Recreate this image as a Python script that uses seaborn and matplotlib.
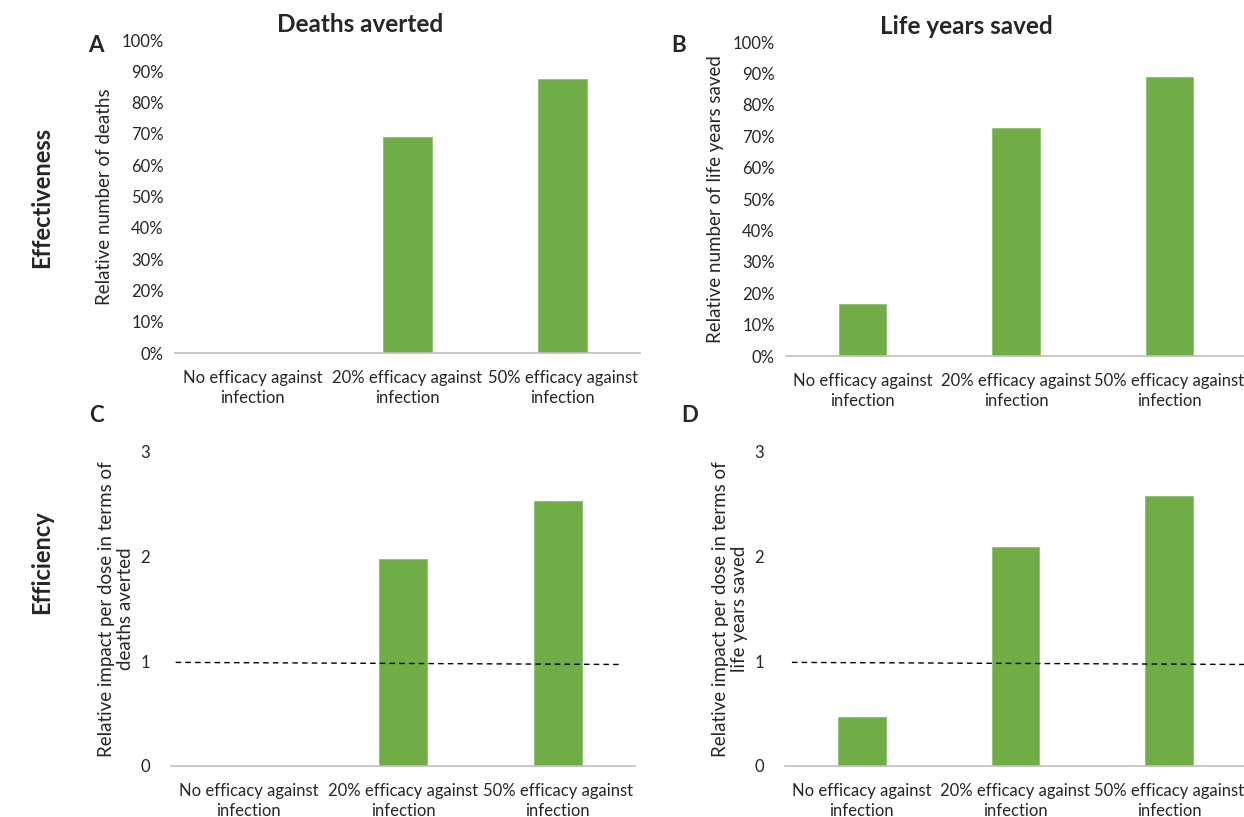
import matplotlib
matplotlib.use('Agg')
import matplotlib.pyplot as plt
import matplotlib.ticker as mtick
import seaborn as sns
import pandas as pd

# data
scenarios = ['No efficacy against\ninfection',
             '20% efficacy against\ninfection',
             '50% efficacy against\ninfection']
deaths_rel = [0.0, 0.69, 0.875]
lys_rel = [0.165, 0.725, 0.89]
deaths_per_dose = [0.0, 1.98, 2.53]
lys_per_dose = [0.47, 2.09, 2.58]
ref_level = [0.99, 0.97]   # dashed reference line (start, end)

GREEN = '#70AD47'
AXIS_GREY = '#BFBFBF'
W, H = 1244, 817

sns.set_theme(style='white')
plt.rcParams['font.family'] = ['Lato', 'DejaVu Sans']

fig = plt.figure(figsize=(W / 100, H / 100), dpi=100)


def px_rect(left, right, top, bottom):
    return [left / W, 1 - bottom / H, (right - left) / W, (bottom - top) / H]


def draw_panel(rect, values, ylabel, pct, ref=None, ref_span=(0.01, 0.97)):
    ax = fig.add_axes(rect)
    df = pd.DataFrame({'scenario': scenarios, 'value': values})
    sns.barplot(data=df, x='scenario', y='value', color=GREEN, width=0.31,
                saturation=1, edgecolor='#8fbf73', linewidth=0.6, ax=ax)
    ax.set_xlim(-0.5, 2.5)
    if pct:
        ax.set_ylim(0, 1)
        ax.set_yticks([i / 10 for i in range(11)])
        ax.yaxis.set_major_formatter(mtick.PercentFormatter(1.0, decimals=0))
        ax.tick_params(axis='y', pad=8)
        lp = 6
    else:
        ax.set_ylim(0, 3)
        ax.set_yticks([0, 1, 2, 3])
        ax.tick_params(axis='y', pad=15)
        lp = 5
    ax.tick_params(axis='x', pad=12, labelsize=12)
    ax.tick_params(axis='y', labelsize=12)
    ax.tick_params(length=0, colors='#262626')
    for lab in ax.get_xticklabels():
        lab.set_linespacing(1.3)
    ax.set_xlabel('')
    ax.set_ylabel(ylabel, fontsize=13.5, color='#262626', labelpad=lp,
                  linespacing=1.1)
    for s in ['top', 'right', 'left']:
        ax.spines[s].set_visible(False)
    ax.spines['bottom'].set_color(AXIS_GREY)
    ax.spines['bottom'].set_linewidth(1.2)
    if ref is not None:
        x0 = -0.5 + 3 * ref_span[0]
        x1 = -0.5 + 3 * ref_span[1]
        ax.plot([x0, x1], ref, color='black', linestyle=(0, (4, 3)),
                linewidth=1, zorder=5)
    return ax


axA = draw_panel(px_rect(175, 640, 40, 353), deaths_rel,
                 'Relative number of deaths', True)
axB = draw_panel(px_rect(786, 1246, 42, 356), lys_rel,
                 'Relative number of life years saved', True)
axC = draw_panel(px_rect(171, 635, 452, 766), deaths_per_dose,
                 'Relative impact per dose in terms of\ndeaths averted', False,
                 ref=ref_level, ref_span=(0.01, 0.97))
axD = draw_panel(px_rect(785, 1246, 452, 766), lys_per_dose,
                 'Relative impact per dose in terms of\nlife years saved', False,
                 ref=ref_level, ref_span=(0.015, 1.0))

# titles, panel letters and row labels
fig.text(360 / W, 1 - 24 / H, 'Deaths averted', fontsize=17.5, fontweight='bold',
         ha='center', va='center')
fig.text(966 / W, 1 - 27 / H, 'Life years saved', fontsize=17.5, fontweight='bold',
         ha='center', va='center')
for letter, x, y in [('A', 96, 45), ('B', 679, 45), ('C', 96, 416), ('D', 690, 416)]:
    fig.text(x / W, 1 - y / H, letter, fontsize=16, fontweight='bold',
             ha='center', va='center')
fig.text(42 / W, 1 - 197 / H, 'Effectiveness', fontsize=17, fontweight='bold',
         rotation=90, ha='center', va='center')
fig.text(42 / W, 1 - 562 / H, 'Efficiency', fontsize=17, fontweight='bold',
         rotation=90, ha='center', va='center')

fig.savefig('out.png', dpi=100)
